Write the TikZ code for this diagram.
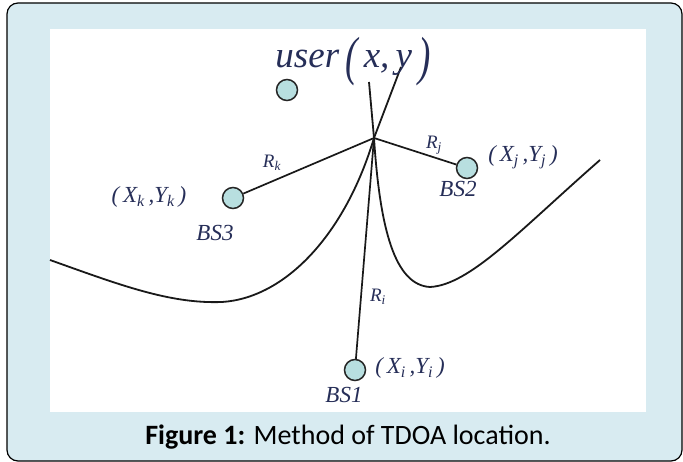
\documentclass[tikz,border=0pt]{standalone}
\usepackage{fontspec}
\usepackage{graphicx}
\setmainfont{Liberation Serif}
\newfontfamily\capfont{Carlito}
\definecolor{bgblue}{RGB}{216,235,241}
\definecolor{bsfill}{RGB}{184,223,224}
\definecolor{lblcol}{RGB}{38,46,88}
\begin{document}
\begin{tikzpicture}[x=1pt,y=-1pt,
  bsnode/.style={circle,draw=black!85,fill=bsfill,line width=1.5pt,minimum size=21pt,inner sep=0pt},
  lbl/.style={text=lblcol,inner sep=0pt,font=\fontsize{23}{25}\selectfont\itshape},
  rlbl/.style={text=lblcol,inner sep=0pt,font=\fontsize{19}{21}\selectfont\itshape},
  conn/.style={draw=black!90,line width=1.7pt},
  curveline/.style={draw=black!90,line width=1.8pt}]
\useasboundingbox (0,0) rectangle (683,462);
\draw[fill=bgblue,draw=black,line width=1.2pt,rounded corners=11pt] (7,3) rectangle (682,461);
\fill[white] (50,29) rectangle (646,412);

% hyperbola branches
\coordinate (P) at (374,138);
\draw[curveline] (50,260) .. controls (120,285) and (170,304) .. (222,302)
  .. controls (285,298) and (345,235) .. (P) -- (401,67);
\draw[curveline] (600,160) .. controls (520,230) and (470,285) .. (430,287)
  .. controls (395,285) and (380,230) .. (P) -- (369,82);

\node[bsnode] (user) at (287,90) {};
\node[bsnode] (bs3) at (233,198) {};
\node[bsnode] (bs2) at (467,168) {};
\node[bsnode] (bs1) at (355,370) {};

\draw[conn] (P) -- (bs3);
\draw[conn] (P) -- (bs2);
\draw[conn] (P) -- (bs1);

\node[text=lblcol,inner sep=0pt,font=\fontsize{37}{40}\selectfont\itshape] (ulbl) at (353,62)
  {user\,\raisebox{-0.2em}{\scalebox{1}[1.45]{(}}\,x,\,y\,\raisebox{-0.2em}{\scalebox{1}[1.45]{)}}};

\node[rlbl] (rk) at (272,163) {R\textsubscript{k}};
\node[rlbl] (rj) at (434,145) {R\textsubscript{j}};
\node[rlbl] (ri) at (378,297) {R\textsubscript{i}};

\node[lbl] (xk) at (149,197) {(\,X\textsubscript{k}\,,Y\textsubscript{k}\,)};
\node[lbl] (xj) at (523,157) {(\,X\textsubscript{j}\,,Y\textsubscript{j}\,)};
\node[lbl] (xi) at (410,368) {(\,X\textsubscript{i}\,,Y\textsubscript{i}\,)};

\node[lbl] (n3) at (215,233) {BS3};
\node[lbl] (n2) at (458,189) {BS2};
\node[lbl] (n1) at (344,395) {BS1};

\node[inner sep=0pt,font=\capfont\fontsize{28}{30}\selectfont] (cap) at (348,437)
  {\textbf{Figure 1:} Method of TDOA location.};
\end{tikzpicture}
\end{document}
